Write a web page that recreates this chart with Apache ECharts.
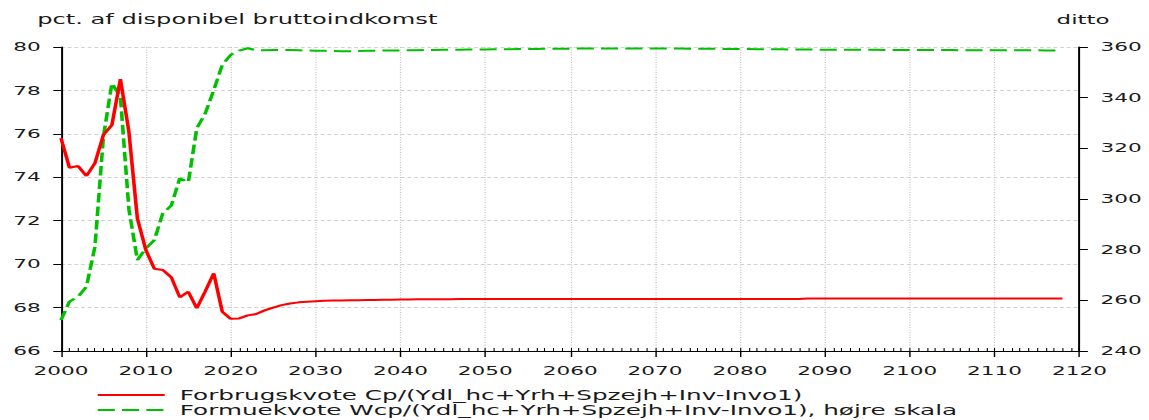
<!DOCTYPE html>
<html>
<head>
<meta charset="utf-8">
<title>Forbrugskvote og formuekvote</title>
<script src="https://cdn.jsdelivr.net/npm/echarts@6/dist/echarts.min.js"></script>
<style>
  html, body { margin: 0; padding: 0; background: #fff; overflow: hidden; }
  /* The chart is laid out on a narrower canvas and widened horizontally,
     which gives the wide lettering and thick vertical strokes of the figure. */
  #chart {
    width: 638.333px;
    height: 420px;
    transform: scaleX(1.8);
    transform-origin: 0 0;
  }
</style>
</head>
<body>
<div id="chart"></div>
<script>
// Years on the horizontal axis
const years = [
  2000, 2001, 2002, 2003, 2004, 2005, 2006, 2007, 2008, 2009,
  2010, 2011, 2012, 2013, 2014, 2015, 2016, 2017, 2018, 2019,
  2020, 2021, 2022, 2023, 2024, 2025, 2026, 2027, 2028, 2029,
  2030, 2031, 2032, 2033, 2034, 2035, 2036, 2037, 2038, 2039,
  2040, 2041, 2042, 2043, 2044, 2045, 2046, 2047, 2048, 2049,
  2050, 2051, 2052, 2053, 2054, 2055, 2056, 2057, 2058, 2059,
  2060, 2061, 2062, 2063, 2064, 2065, 2066, 2067, 2068, 2069,
  2070, 2071, 2072, 2073, 2074, 2075, 2076, 2077, 2078, 2079,
  2080, 2081, 2082, 2083, 2084, 2085, 2086, 2087, 2088, 2089,
  2090, 2091, 2092, 2093, 2094, 2095, 2096, 2097, 2098, 2099,
  2100, 2101, 2102, 2103, 2104, 2105, 2106, 2107, 2108, 2109,
  2110, 2111, 2112, 2113, 2114, 2115, 2116, 2117, 2118
];

// Forbrugskvote, pct. af disponibel bruttoindkomst (venstre akse)
const forbrugskvote = [
  75.80, 74.44, 74.52, 74.06, 74.65, 75.95, 76.41, 78.52, 76.10, 72.11,
  70.65, 69.79, 69.73, 69.39, 68.47, 68.73, 67.97, 68.75, 69.58, 67.81,
  67.48, 67.50, 67.64, 67.70, 67.87, 68.00, 68.11, 68.19, 68.24, 68.27,
  68.29, 68.31, 68.32, 68.33, 68.34, 68.34, 68.35, 68.35, 68.36, 68.36,
  68.37, 68.37, 68.38, 68.38, 68.38, 68.38, 68.38, 68.39, 68.39, 68.39,
  68.39, 68.39, 68.39, 68.39, 68.39, 68.40, 68.40, 68.40, 68.40, 68.40,
  68.40, 68.40, 68.40, 68.40, 68.40, 68.40, 68.40, 68.40, 68.40, 68.40,
  68.40, 68.40, 68.40, 68.40, 68.40, 68.40, 68.40, 68.40, 68.40, 68.40,
  68.40, 68.40, 68.40, 68.40, 68.40, 68.40, 68.40, 68.40, 68.42, 68.42,
  68.42, 68.42, 68.42, 68.42, 68.42, 68.42, 68.42, 68.42, 68.42, 68.42,
  68.42, 68.42, 68.42, 68.42, 68.42, 68.42, 68.42, 68.42, 68.42, 68.42,
  68.42, 68.42, 68.42, 68.42, 68.42, 68.42, 68.42, 68.42, 68.42
];

// Formuekvote, pct. af disponibel bruttoindkomst (højre akse)
const formuekvote = [
  252.2, 259.5, 261.4, 265.4, 281.2, 324.6, 345.7, 340.4, 296.0, 275.9,
  280.5, 283.8, 294.4, 297.4, 308.2, 306.5, 327.9, 333.8, 343.0, 352.9,
  356.9, 358.6, 359.5, 358.7, 358.7, 358.8, 358.8, 358.8, 358.7, 358.6,
  358.5, 358.5, 358.4, 358.3, 358.3, 358.4, 358.5, 358.5, 358.6, 358.6,
  358.6, 358.7, 358.7, 358.8, 358.8, 358.9, 358.9, 358.9, 359.0, 359.0,
  359.0, 359.1, 359.1, 359.1, 359.2, 359.2, 359.2, 359.3, 359.3, 359.3,
  359.3, 359.4, 359.4, 359.4, 359.4, 359.4, 359.4, 359.4, 359.4, 359.4,
  359.4, 359.4, 359.4, 359.4, 359.3, 359.3, 359.3, 359.3, 359.2, 359.2,
  359.2, 359.2, 359.1, 359.1, 359.1, 359.1, 359.0, 359.0, 359.0, 359.0,
  358.9, 358.9, 358.9, 358.9, 358.9, 358.9, 358.9, 358.8, 358.8, 358.8,
  358.8, 358.8, 358.8, 358.8, 358.8, 358.8, 358.7, 358.7, 358.7, 358.7,
  358.7, 358.7, 358.7, 358.7, 358.7, 358.7, 358.6, 358.6, 358.6
];

// Axis ranges and labels
const leftAxisTitle = 'pct. af disponibel bruttoindkomst';
const rightAxisTitle = 'ditto';
const seriesNames = [
  'Forbrugskvote Cp/(Ydl_hc+Yrh+Spzejh+Inv-Invo1)',
  'Formuekvote Wcp/(Ydl_hc+Yrh+Spzejh+Inv-Invo1), højre skala'
];
const xRange = [2000, 2120, 10];
const leftRange = [66, 80, 2];
const rightRange = [240, 360, 20];

const textColor = '#1a1a1a';
const font = 'DejaVu Sans';

const chart = echarts.init(document.getElementById('chart'), null, { renderer: 'svg' });

chart.setOption({
  animation: false,
  backgroundColor: '#ffffff',
  textStyle: { fontFamily: font, color: textColor },
  title: [
    {
      text: leftAxisTitle,
      left: 20.7, top: 13.5, padding: 0,
      textStyle: { fontFamily: font, fontSize: 13.4, fontWeight: 'normal', color: textColor }
    },
    {
      text: rightAxisTitle,
      left: 601.7, top: 13.5, padding: 0, textAlign: 'center',
      textStyle: { fontFamily: font, fontSize: 12.75, fontWeight: 'normal', color: textColor }
    }
  ],
  legend: {
    orient: 'vertical',
    left: 53.3, top: 388,
    padding: 0,
    itemWidth: 37.2, itemHeight: 14, itemGap: 1,
    selectedMode: false,
    // only the line sample is shown, no marker on it
    itemStyle: { opacity: 0 },
    textStyle: { fontFamily: font, fontSize: 13.7, color: textColor, padding: [0, 0, 0, 3.4] },
    data: seriesNames
  },
  grid: { left: 33.889, right: 38.333, top: 47, bottom: 69, containLabel: false },
  xAxis: [
    {
      type: 'value',
      min: xRange[0], max: xRange[1], interval: xRange[2],
      axisLine: { lineStyle: { color: '#000', width: 1 } },
      axisTick: { show: true, length: 6, lineStyle: { color: '#000', width: 0.8 } },
      axisLabel: { margin: 14, fontSize: 12, color: textColor, fontFamily: font, formatter: v => String(v) },
      splitLine: { show: true, lineStyle: { type: [1.1, 1.4], color: '#c4c4c4', width: 0.7 } }
    },
    {
      type: 'value',
      position: 'bottom',
      min: xRange[0], max: xRange[1], interval: 1,
      axisLine: { show: false },
      axisTick: { show: true, inside: true, length: 3, lineStyle: { color: '#000', width: 0.6 } },
      axisLabel: { show: false },
      splitLine: { show: false }
    }
  ],
  yAxis: [
    {
      type: 'value',
      position: 'left',
      min: leftRange[0], max: leftRange[1], interval: leftRange[2],
      axisLine: { show: true, lineStyle: { color: '#000', width: 1.1 } },
      axisTick: { show: true, length: 4.3, lineStyle: { color: '#000', width: 1 } },
      axisLabel: { margin: 11.3, fontSize: 12, color: textColor, fontFamily: font },
      splitLine: { show: true, lineStyle: { type: [2.2, 1.5], color: '#d2d2d2', width: 1 } }
    },
    {
      type: 'value',
      position: 'right',
      min: rightRange[0], max: rightRange[1], interval: rightRange[2],
      axisLine: { show: true, lineStyle: { color: '#000', width: 1.1 } },
      axisTick: { show: true, length: 4.7, lineStyle: { color: '#000', width: 1 } },
      axisLabel: { margin: 11.7, fontSize: 12, color: textColor, fontFamily: font },
      splitLine: { show: false }
    }
  ],
  series: [
    {
      name: seriesNames[0],
      type: 'line',
      xAxisIndex: 0, yAxisIndex: 0,
      data: years.map((y, i) => [y, forbrugskvote[i]]),
      symbol: 'none',
      z: 3,
      itemStyle: { color: '#ff0000' },
      lineStyle: { color: '#ff0000', width: 2 }
    },
    {
      name: seriesNames[1],
      type: 'line',
      xAxisIndex: 0, yAxisIndex: 1,
      data: years.map((y, i) => [y, formuekvote[i]]),
      symbol: 'none',
      z: 2,
      itemStyle: { color: '#00c000' },
      lineStyle: { color: '#00c000', width: 2, type: [9.5, 4] }
    }
  ]
});
</script>
</body>
</html>
